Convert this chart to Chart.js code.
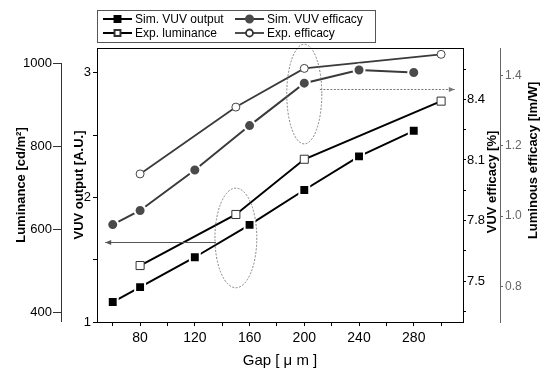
<!DOCTYPE html>
<html><head><meta charset="utf-8">
<script src="https://cdn.jsdelivr.net/npm/chart.js@4/dist/chart.umd.min.js"></script>
<style>html,body{margin:0;padding:0;background:#fff}canvas{display:block}</style>
</head><body>
<canvas id="c" width="541" height="372"></canvas>
<script>
// ---- data ----
const gapSim = [60, 80, 120, 160, 200, 240, 280];
const simVuvOutput = [1.16, 1.28, 1.52, 1.78, 2.06, 2.33, 2.535];
const simVuvEfficacy = [7.78, 7.85, 8.05, 8.27, 8.48, 8.545, 8.533];
const gapExp = [80, 150, 200, 300];
const expLuminance = [514, 637, 770, 910];
const expEfficacy = [1.12, 1.31, 1.42, 1.46];
const seriesLabels = ['Sim. VUV output', 'Sim. VUV efficacy', 'Exp. luminance', 'Exp. efficacy'];
// ---- tick labels ----
const xTickLabels = [80, 120, 160, 200, 240, 280];
const vuvOutputTickLabels = [1, 2, 3];
const vuvEffTickLabels = [7.5, 7.8, 8.1, 8.4];
const lumTickLabels = [400, 600, 800, 1000];
const lumEffTickLabels = [0.8, 1.0, 1.2, 1.4];
const vuvEffTitle = 'VUV efficacy [%]';
const lumEffTitle = 'Luminous efficacy [lm/W]';
// ---- annotations (gap, VUV output units) ----
const ellipseGap = [150, 200];
const ellipseVuv = [1.675, 2.83];
const ellipseGapHalf = [15.3, 12.8];
const ellipseVuvHalf = [0.40, 0.40];
const arrowFromGap = [135.5, 211.4];
const arrowToGap = [54.5, 310];
const arrowVuv = [1.64, 2.87];

const FONT = '"Liberation Sans", Arial, Helvetica, sans-serif';
const pts = (xs, ys) => xs.map((x, i) => ({x: x, y: ys[i]}));
const inList = (list, v) => list.some(t => Math.abs(t - v) < 1e-6);

const framePlugin = {
  id: 'frame',
  afterDraw(chart) {
    const ctx = chart.ctx, a = chart.chartArea;
    ctx.save();
    ctx.strokeStyle = '#000'; ctx.lineWidth = 1;
    ctx.beginPath();
    const t = Math.round(a.top) + 0.5;
    ctx.moveTo(a.left, t); ctx.lineTo(a.right, t); ctx.stroke();
    // luminance axis line from its top tick down
    const s = chart.scales.yLum;
    const x = Math.round(s.right) - 0.5;
    ctx.strokeStyle = '#333';
    ctx.beginPath();
    ctx.moveTo(x, s.getPixelForValue(lumTickLabels[lumTickLabels.length - 1]));
    ctx.lineTo(x, s.bottom);
    ctx.stroke();
    // right-side axis titles, reading bottom-to-top
    ctx.fillStyle = '#000';
    ctx.font = 'bold 13px ' + FONT;
    ctx.textAlign = 'center'; ctx.textBaseline = 'middle';
    const e = chart.scales.yEff;
    ctx.save();
    ctx.translate(e.right - 7.8, (e.top + e.bottom) / 2 - 3);
    ctx.rotate(-Math.PI / 2);
    ctx.fillText(vuvEffTitle, 0, 0);
    ctx.restore();
    const l = chart.scales.yLumEff;
    ctx.save();
    ctx.translate(l.right - 8, l.top + (l.bottom - l.top) * 0.41);
    ctx.rotate(-Math.PI / 2);
    ctx.fillText(lumEffTitle, 0, 0);
    ctx.restore();
    ctx.restore();
  }
};

const annotPlugin = {
  id: 'annot',
  afterDatasetsDraw(chart) {
    const ctx = chart.ctx, xs = chart.scales.x, ys = chart.scales.yVuv;
    ctx.save();
    for (let i = 0; i < ellipseGap.length; i++) {
      const cx = xs.getPixelForValue(ellipseGap[i]);
      const cy = ys.getPixelForValue(ellipseVuv[i]);
      const rx = Math.abs(xs.getPixelForValue(ellipseGap[i] + ellipseGapHalf[i]) - cx);
      const ry = Math.abs(ys.getPixelForValue(ellipseVuv[i] + ellipseVuvHalf[i]) - cy);
      ctx.setLineDash([2, 1.5]);
      ctx.strokeStyle = '#777'; ctx.lineWidth = 0.9;
      ctx.beginPath(); ctx.ellipse(cx, cy, rx, ry, 0, 0, Math.PI * 2); ctx.stroke();
    }
    for (let i = 0; i < arrowFromGap.length; i++) {
      const x1 = xs.getPixelForValue(arrowFromGap[i]);
      const x2 = xs.getPixelForValue(arrowToGap[i]);
      const y = Math.round(ys.getPixelForValue(arrowVuv[i])) + 0.5;
      ctx.setLineDash(i === 0 ? [] : [2, 1.5]);
      ctx.strokeStyle = i === 0 ? '#555' : '#777'; ctx.lineWidth = 1;
      ctx.beginPath(); ctx.moveTo(x1, y); ctx.lineTo(x2, y); ctx.stroke();
      ctx.setLineDash([]);
      const dir = x2 > x1 ? 1 : -1;
      ctx.fillStyle = ctx.strokeStyle;
      ctx.beginPath();
      ctx.moveTo(x2, y); ctx.lineTo(x2 - dir * 6, y - 2.5); ctx.lineTo(x2 - dir * 6, y + 2.5);
      ctx.closePath(); ctx.fill();
    }
    ctx.restore();
  }
};

const legendPlugin = {
  id: 'boxLegend',
  afterDraw(chart) {
    const ctx = chart.ctx;
    ctx.save();
    ctx.strokeStyle = '#555'; ctx.lineWidth = 1;
    ctx.strokeRect(97.5, 10.5, 278, 32);
    const cols = [103, 235], rows = [19, 33];
    chart.data.datasets.forEach((ds, i) => {
      const cx = cols[i % 2], cy = rows[Math.floor(i / 2)];
      ctx.strokeStyle = ds.borderColor; ctx.lineWidth = ds.borderWidth;
      ctx.beginPath(); ctx.moveTo(cx, cy); ctx.lineTo(cx + 29, cy); ctx.stroke();
      const filled = ds.pointBackgroundColor !== '#fff';
      ctx.fillStyle = filled ? ds.pointBackgroundColor : '#fff';
      ctx.strokeStyle = filled ? ds.pointBackgroundColor : '#333';
      Chart.helpers.drawPoint(ctx, {
        pointStyle: ds.pointStyle, radius: ds.pointStyle === 'rect' ? 4.2 : 3.5,
        borderWidth: 1, rotation: 0
      }, cx + 14.5, cy);
      ctx.fillStyle = '#000';
      ctx.font = '12px ' + FONT;
      ctx.textBaseline = 'middle'; ctx.textAlign = 'left';
      ctx.fillText(ds.label, cx + 32, cy + 0.5);
    });
    ctx.restore();
  }
};

const tickFont = {family: FONT, size: 13};
const titleFont = {family: FONT, size: 13, weight: 'bold'};

new Chart(document.getElementById('c'), {
  type: 'line',
  data: {
    datasets: [
      {label: seriesLabels[0], data: pts(gapSim, simVuvOutput), yAxisID: 'yVuv',
       borderColor: '#000', borderWidth: 2, pointStyle: 'rect', pointRadius: 7,
       pointBackgroundColor: '#000', pointBorderColor: '#fff', pointBorderWidth: 2},
      {label: seriesLabels[1], data: pts(gapSim, simVuvEfficacy), yAxisID: 'yEff',
       borderColor: '#3a3a3a', borderWidth: 2, pointStyle: 'circle', pointRadius: 5.5,
       pointBackgroundColor: '#4a4a4a', pointBorderColor: '#fff', pointBorderWidth: 2},
      {label: seriesLabels[2], data: pts(gapExp, expLuminance), yAxisID: 'yLum',
       borderColor: '#000', borderWidth: 2, pointStyle: 'rect', pointRadius: 5.7,
       pointBackgroundColor: '#fff', pointBorderColor: '#333', pointBorderWidth: 1},
      {label: seriesLabels[3], data: pts(gapExp, expEfficacy), yAxisID: 'yLumEff',
       borderColor: '#3a3a3a', borderWidth: 1.8, pointStyle: 'circle', pointRadius: 4,
       pointBackgroundColor: '#fff', pointBorderColor: '#444', pointBorderWidth: 1}
    ]
  },
  options: {
    responsive: false, animation: false, devicePixelRatio: 1,
    layout: {padding: {top: 48, left: 0, right: 0, bottom: 0}, autoPadding: false},
    plugins: {legend: {display: false}, tooltip: {enabled: false}},
    elements: {line: {tension: 0}},
    scales: {
      x: {
        type: 'linear', position: 'bottom', min: 48.5, max: 316,
        afterFit: s => { s.height = 50; },
        ticks: {stepSize: 20, includeBounds: false, autoSkip: false, maxRotation: 0, padding: 4,
          color: '#000', font: {family: FONT, size: 14},
          callback: v => inList(xTickLabels, v) ? String(Math.round(v)) : ''},
        grid: {drawOnChartArea: false, drawTicks: true, tickLength: 4, color: '#000'},
        border: {display: true, color: '#000', width: 1},
        title: {display: true, text: 'Gap [ μ m ]', color: '#000',
          font: {family: FONT, size: 15}, padding: {top: 0, bottom: 2}}
      },
      yLum: {
        type: 'linear', position: 'left', weight: 10, min: 378, max: 1038,
        afterFit: s => { s.width = 62; },
        ticks: {stepSize: 200, includeBounds: false, autoSkip: false, padding: 1, color: '#000', font: tickFont,
          callback: v => inList(lumTickLabels, v) ? String(Math.round(v)) : ''},
        grid: {drawOnChartArea: false, drawTicks: true, tickLength: 9, color: '#333'},
        border: {display: false},
        title: {display: true, text: 'Luminance [cd/m²]', color: '#000', font: titleFont, padding: {top: 14, bottom: 0}}
      },
      yVuv: {
        type: 'linear', position: 'left', weight: 0, min: 1, max: 3.2,
        afterFit: s => { s.width = 35; },
        ticks: {stepSize: 0.5, includeBounds: false, autoSkip: false, padding: 2, color: '#000', font: tickFont,
          callback: v => inList(vuvOutputTickLabels, v) ? String(Math.round(v)) : ''},
        grid: {drawOnChartArea: false, drawTicks: true, tickLength: 4, color: '#000'},
        border: {display: true, color: '#000', width: 1},
        title: {display: true, text: 'VUV output [A.U.]', color: '#000', font: titleFont, padding: {top: 10, bottom: 0}}
      },
      yEff: {
        type: 'linear', position: 'right', weight: 0, min: 7.298, max: 8.654,
        afterFit: s => { s.width = 37; },
        ticks: {stepSize: 0.15, includeBounds: false, autoSkip: false, padding: 1, color: '#000', font: tickFont,
          callback: v => inList(vuvEffTickLabels, v) ? v.toFixed(1) : ''},
        grid: {drawOnChartArea: false, drawTicks: true, tickLength: 3, color: '#000'},
        border: {display: true, color: '#000', width: 1},
        title: {display: false}
      },
      yLumEff: {
        type: 'linear', position: 'right', weight: 10, min: 0.699, max: 1.478,
        afterFit: s => { s.width = 41; },
        ticks: {stepSize: 0.2, includeBounds: false, autoSkip: false, padding: 2, color: '#666',
          font: {family: FONT, size: 12},
          callback: v => inList(lumEffTickLabels, v) ? v.toFixed(1) : ''},
        grid: {drawOnChartArea: false, drawTicks: true, tickLength: 3, color: '#666'},
        border: {display: true, color: '#666', width: 1},
        title: {display: false}
      }
    }
  },
  plugins: [framePlugin, annotPlugin, legendPlugin]
});
</script>
</body></html>
